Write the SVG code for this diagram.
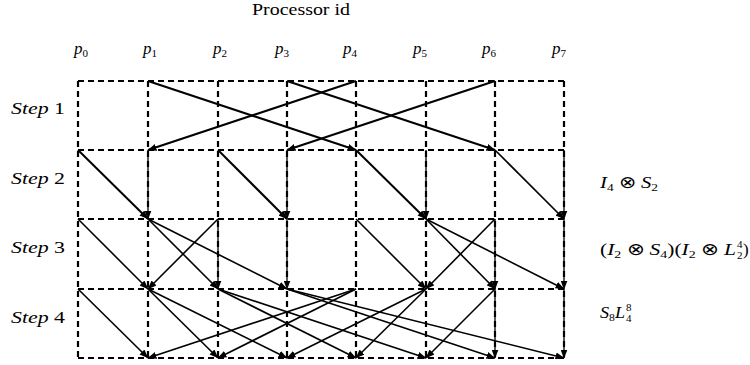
<svg xmlns="http://www.w3.org/2000/svg" width="750" height="365" viewBox="0 0 750 365">
<defs>
<marker id="ah" markerUnits="userSpaceOnUse" markerWidth="9" markerHeight="7" refX="8.5" refY="3.5" orient="auto"><path d="M0,0 L9,3.5 L0,7 z" fill="#000"/></marker>
</defs>
<style>
.grid{stroke:#000;stroke-width:2.2;stroke-dasharray:6 4;fill:none}
.e{stroke:#000;stroke-width:1.6;fill:none;marker-end:url(#ah)}
.b{stroke-width:2}
.v{stroke:#000;stroke-width:1.3;fill:none;marker-end:url(#ah)}
text{font-family:'Liberation Serif','Times New Roman',serif;fill:#000;font-size:17px}
.i{font-style:italic}
.s{font-size:11px}
</style>
<rect width="750" height="365" fill="#fff"/>
<g font-family="Liberation Serif, serif">
<text x="252" y="15" font-size="17" textLength="98" lengthAdjust="spacingAndGlyphs">Processor id</text>
<g id="p0"><text x="74" y="54"><tspan class="i">p</tspan><tspan class="s" dy="3">0</tspan></text><line class="grid" x1="78" y1="81" x2="78" y2="358"/></g>
<g id="p1"><text x="143" y="54"><tspan class="i">p</tspan><tspan class="s" dy="3">1</tspan></text><line class="grid" x1="148" y1="81" x2="148" y2="358"/></g>
<g id="p2"><text x="213" y="54"><tspan class="i">p</tspan><tspan class="s" dy="3">2</tspan></text><line class="grid" x1="218" y1="81" x2="218" y2="358"/></g>
<g id="p3"><text x="275" y="54"><tspan class="i">p</tspan><tspan class="s" dy="3">3</tspan></text><line class="grid" x1="287" y1="81" x2="287" y2="358"/></g>
<g id="p4"><text x="343" y="54"><tspan class="i">p</tspan><tspan class="s" dy="3">4</tspan></text><line class="grid" x1="356" y1="81" x2="356" y2="358"/></g>
<g id="p5"><text x="413" y="54"><tspan class="i">p</tspan><tspan class="s" dy="3">5</tspan></text><line class="grid" x1="426" y1="81" x2="426" y2="358"/></g>
<g id="p6"><text x="482" y="54"><tspan class="i">p</tspan><tspan class="s" dy="3">6</tspan></text><line class="grid" x1="495" y1="81" x2="495" y2="358"/></g>
<g id="p7"><text x="552" y="54"><tspan class="i">p</tspan><tspan class="s" dy="3">7</tspan></text><line class="grid" x1="564" y1="81" x2="564" y2="358"/></g>
<g id="rows">
<line class="grid" x1="78" y1="81" x2="564" y2="81"/>
<line class="grid" x1="78" y1="150" x2="564" y2="150"/>
<line class="grid" x1="78" y1="219" x2="564" y2="219"/>
<line class="grid" x1="78" y1="289" x2="564" y2="289"/>
<line class="grid" x1="78" y1="358" x2="564" y2="358"/>
</g>
<g id="step1"><text x="11" y="114" font-size="19" textLength="54" lengthAdjust="spacingAndGlyphs"><tspan class="i">Step</tspan> 1</text></g>
<g id="step2"><text x="11" y="184" font-size="19" textLength="54" lengthAdjust="spacingAndGlyphs"><tspan class="i">Step</tspan> 2</text></g>
<g id="step3"><text x="11" y="253" font-size="19" textLength="54" lengthAdjust="spacingAndGlyphs"><tspan class="i">Step</tspan> 3</text></g>
<g id="step4"><text x="11" y="323" font-size="19" textLength="54" lengthAdjust="spacingAndGlyphs"><tspan class="i">Step</tspan> 4</text></g>
<g id="op2"><text x="600" y="188" textLength="58" lengthAdjust="spacingAndGlyphs"><tspan class="i">I</tspan><tspan class="s" dy="3">4</tspan><tspan dy="-3"> ⊗ </tspan><tspan class="i">S</tspan><tspan class="s" dy="3">2</tspan></text></g>
<g id="op3"><text x="600" y="255" textLength="136" lengthAdjust="spacingAndGlyphs">(<tspan class="i">I</tspan><tspan class="s" dy="3">2</tspan><tspan dy="-3"> ⊗ </tspan><tspan class="i">S</tspan><tspan class="s" dy="3">4</tspan><tspan dy="-3">)(</tspan><tspan class="i">I</tspan><tspan class="s" dy="3">2</tspan><tspan dy="-3"> ⊗ </tspan><tspan class="i">L</tspan></text><text class="s" x="737" y="248">4</text><text class="s" x="737" y="259">2</text><text x="743" y="255">)</text></g>
<g id="op4"><text x="600" y="318" textLength="25" lengthAdjust="spacingAndGlyphs"><tspan class="i">S</tspan><tspan class="s" dy="3">8</tspan><tspan class="i" dy="-3">L</tspan></text><text class="s" x="626" y="311">8</text><text class="s" x="626" y="322">4</text></g>
</g>
<g id="connectors">
<path class="e b" d="M148,81 L356,150"/>
<path class="e b" d="M356,81 L148,150"/>
<path class="e b" d="M287,81 L495,150"/>
<path class="e b" d="M495,81 L287,150"/>
<path class="e b" d="M78,150 L148,219"/>
<path class="v" d="M148,150 L148,219"/>
<path class="e b" d="M218,150 L287,219"/>
<path class="v" d="M287,150 L287,219"/>
<path class="e b" d="M356,150 L426,219"/>
<path class="v" d="M426,150 L426,219"/>
<path class="e" d="M495,150 L564,219"/>
<path class="v" d="M564,150 L564,219"/>
<path class="e" d="M78,219 L148,289"/>
<path class="e" d="M218,219 L148,289"/>
<path class="e" d="M148,219 L218,289"/>
<path class="v" d="M218,219 L218,289"/>
<path class="e" d="M148,219 L287,289"/>
<path class="v" d="M287,219 L287,289"/>
<path class="e" d="M356,219 L426,289"/>
<path class="e" d="M495,219 L426,289"/>
<path class="e" d="M426,219 L495,289"/>
<path class="v" d="M495,219 L495,289"/>
<path class="e" d="M426,219 L564,289"/>
<path class="v" d="M564,219 L564,289"/>
<path class="e" d="M78,289 L148,358"/>
<path class="e" d="M356,289 L148,358"/>
<path class="e" d="M148,289 L218,358"/>
<path class="e" d="M356,289 L218,358"/>
<path class="e" d="M148,289 L287,358"/>
<path class="e" d="M426,289 L287,358"/>
<path class="e" d="M426,289 L356,358"/>
<path class="e" d="M218,289 L356,358"/>
<path class="e" d="M218,289 L426,358"/>
<path class="e" d="M495,289 L426,358"/>
<path class="v" d="M495,289 L495,358"/>
<path class="e" d="M287,289 L495,358"/>
<path class="e" d="M287,289 L564,358"/>
<path class="v" d="M564,289 L564,358"/>
</g>
</svg>
